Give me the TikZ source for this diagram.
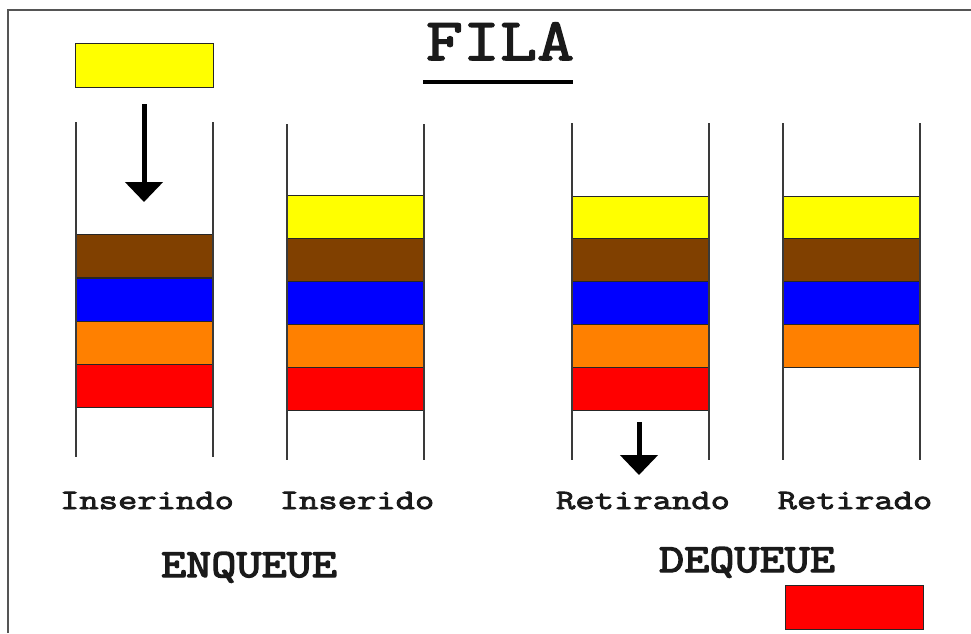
\documentclass[tikz,border=0pt]{standalone}
\usepackage{fontspec}
\newfontfamily\lblfont{Latin Modern Mono}[FakeStretch=1.34, FakeBold=3]
\newfontfamily\opfont{Latin Modern Mono}[FakeStretch=1.22, FakeBold=3.5]
\newfontfamily\titlefont{Latin Modern Mono}[FakeStretch=1.2, FakeBold=2.5]
\usetikzlibrary{arrows.meta}
\definecolor{qyellow}{HTML}{FFFF00}
\definecolor{qbrown}{HTML}{804000}
\definecolor{qblue}{HTML}{0000FF}
\definecolor{qorange}{HTML}{FF8000}
\definecolor{qred}{HTML}{FF0000}
\definecolor{qline}{HTML}{3A3A3A}
\definecolor{qframe}{HTML}{555555}
\definecolor{qtext}{HTML}{1A1A1A}
\begin{document}
\begin{tikzpicture}[x=1pt,y=-1pt,
  block/.style={draw=black!85, line width=0.9pt, minimum width=137pt, minimum height=43.3pt, inner sep=0pt, outer sep=0pt, anchor=north west},
  wall/.style={draw=qline, line width=1.5pt},
  bigarrow/.style={draw=black, line width=5pt, -{Triangle[width=37pt,length=20pt]}},
  lbl/.style={text=qtext, anchor=base, inner sep=0pt, font=\lblfont\fontsize{28}{28}\selectfont},
  op/.style={text=qtext, anchor=base, inner sep=0pt, font=\opfont\fontsize{40}{40}\selectfont},
  title/.style={text=qtext, anchor=base, inner sep=0pt, font=\titlefont\fontsize{60}{60}\selectfont}]
\useasboundingbox (0,0) rectangle (971,633);
\fill[white] (0,0) rectangle (971,633);
% frame
\coordinate (fr1) at (8,633);
\coordinate (fr2) at (8,10);
\coordinate (fr3) at (971,10);
\draw[qframe, line width=2pt] (fr1) -- (fr2) -- (fr3);
% title
\node[title] (fila) at (500,60) {FILA};
\coordinate (ul1) at (423,82);
\coordinate (ul2) at (573,82);
\draw[black, line width=4pt] (ul1) -- (ul2);
% incoming yellow box
\node[block, fill=qyellow, minimum height=44pt, minimum width=138pt] (newy) at (75,43) {};
% column 1
\node[block, fill=qbrown]  (c1b) at (76,234) {};
\node[block, fill=qblue]   (c1u) at (76,278) {};
\node[block, fill=qorange] (c1o) at (76,321) {};
\node[block, fill=qred]    (c1r) at (76,364.5) {};
\coordinate (c1lt) at (76,122); \coordinate (c1lb) at (76,457);
\coordinate (c1rt) at (213,122); \coordinate (c1rb) at (213,457);
\draw[wall] (c1lt) -- (c1lb); \draw[wall] (c1rt) -- (c1rb);
\coordinate (a1s) at (144,104); \coordinate (a1e) at (144,202);
\draw[bigarrow] (a1s) -- (a1e);
% column 2
\node[block, fill=qyellow] (c2y) at (287,195) {};
\node[block, fill=qbrown]  (c2b) at (287,238) {};
\node[block, fill=qblue]   (c2u) at (287,281) {};
\node[block, fill=qorange] (c2o) at (287,324) {};
\node[block, fill=qred]    (c2r) at (287,367) {};
\coordinate (c2lt) at (287,124); \coordinate (c2lb) at (287,460);
\coordinate (c2rt) at (424,124); \coordinate (c2rb) at (424,460);
\draw[wall] (c2lt) -- (c2lb); \draw[wall] (c2rt) -- (c2rb);
% column 3
\node[block, fill=qyellow] (c3y) at (572,196) {};
\node[block, fill=qbrown]  (c3b) at (572,238) {};
\node[block, fill=qblue]   (c3u) at (572,281) {};
\node[block, fill=qorange] (c3o) at (572,324) {};
\node[block, fill=qred]    (c3r) at (572,367) {};
\coordinate (c3lt) at (572,123); \coordinate (c3lb) at (572,460);
\coordinate (c3rt) at (709,123); \coordinate (c3rb) at (709,460);
\draw[wall] (c3lt) -- (c3lb); \draw[wall] (c3rt) -- (c3rb);
\coordinate (a2s) at (639,422); \coordinate (a2e) at (639,475);
\draw[bigarrow] (a2s) -- (a2e);
% column 4
\node[block, fill=qyellow] (c4y) at (783,196) {};
\node[block, fill=qbrown]  (c4b) at (783,238) {};
\node[block, fill=qblue]   (c4u) at (783,281) {};
\node[block, fill=qorange] (c4o) at (783,324) {};
\coordinate (c4lt) at (783,123); \coordinate (c4lb) at (783,460);
\coordinate (c4rt) at (920,123); \coordinate (c4rb) at (920,460);
\draw[wall] (c4lt) -- (c4lb); \draw[wall] (c4rt) -- (c4rb);
% outgoing red box
\node[block, fill=qred, minimum height=44pt, minimum width=138pt] (oldr) at (785,585) {};
% labels
\node[lbl] (l1) at (147,509) {Inserindo};
\node[lbl] (l2) at (357,509) {Inserido};
\node[lbl] (l3) at (643,509) {Retirando};
\node[lbl] (l4) at (855,509) {Retirado};
\node[op] (enq) at (249,577) {ENQUEUE};
\node[op] (deq) at (747,572) {DEQUEUE};
\end{tikzpicture}
\end{document}
